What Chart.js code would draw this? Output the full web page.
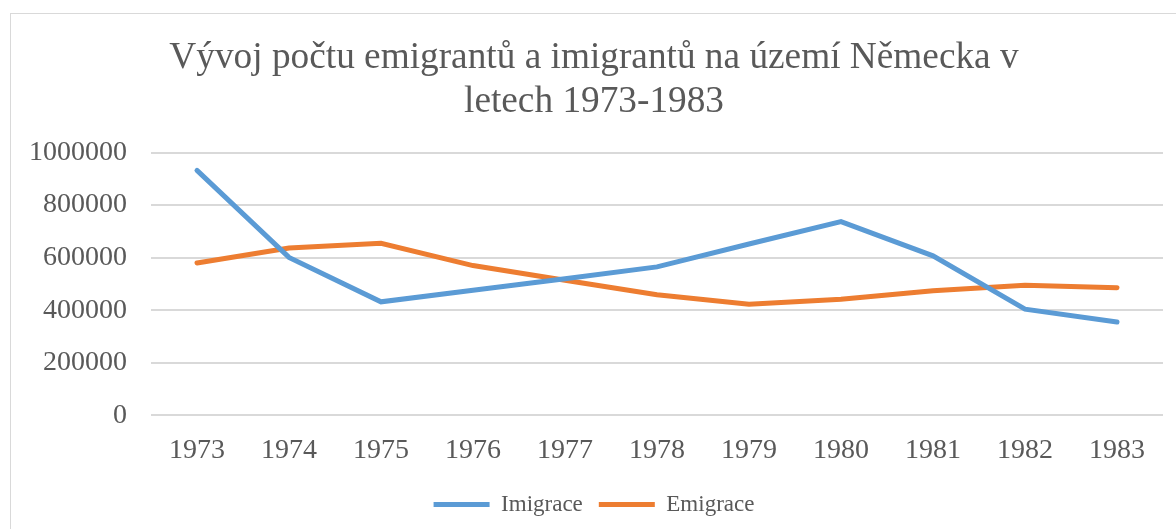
<!DOCTYPE html>
<html>
<head>
<meta charset="utf-8">
<script src="https://cdn.jsdelivr.net/npm/chart.js@4.4.0/dist/chart.umd.min.js"></script>
<style>
  html, body { margin: 0; padding: 0; background: #fff; overflow: hidden; }
  #frame {
    position: absolute; left: 10px; top: 13px;
    width: 1190px; height: 540px;
    border: 1px solid #d9d9d9;
  }
</style>
</head>
<body>
<div id="frame"><canvas id="chart" width="1190" height="540"></canvas></div>
<script>
const years = ['1973', '1974', '1975', '1976', '1977', '1978', '1979', '1980', '1981', '1982', '1983'];
const imigrace = [932000, 601000, 432000, 476000, 520000, 565000, 652000, 737000, 607000, 404000, 355000];
const emigrace = [580000, 637000, 655000, 570000, 514000, 459000, 423000, 442000, 474000, 495000, 486000];
const yTicks = [0, 200000, 400000, 600000, 800000, 1000000];

const serif = '"Times New Roman", "Liberation Serif", serif';
const textColor = '#595959';

Chart.defaults.font.family = serif;
Chart.defaults.color = textColor;

new Chart(document.getElementById('chart'), {
  type: 'line',
  data: {
    labels: years,
    datasets: [
      {
        label: 'Imigrace',
        data: imigrace,
        borderColor: '#5b9bd5',
        backgroundColor: '#5b9bd5',
        borderWidth: 5,
        borderCapStyle: 'round',
        pointRadius: 0,
        tension: 0
      },
      {
        label: 'Emigrace',
        data: emigrace,
        borderColor: '#ed7d31',
        backgroundColor: '#ed7d31',
        borderWidth: 5,
        borderCapStyle: 'round',
        pointRadius: 0,
        tension: 0
      }
    ]
  },
  options: {
    responsive: false,
    animation: false,
    layout: { padding: { left: 14, right: 38, top: 13, bottom: 28 } },
    plugins: {
      title: {
        display: true,
        text: ['Vývoj počtu emigrantů a imigrantů na území Německa v', 'letech 1973-1983'],
        font: { size: 37.3, weight: 'normal', lineHeight: 1.16 },
        color: textColor,
        padding: { top: 10, bottom: 29 }
      },
      legend: {
        position: 'bottom',
        labels: {
          usePointStyle: true,
          pointStyle: 'line',
          pointStyleWidth: 56,
          font: { size: 23 },
          padding: 16,
          color: textColor
        }
      },
      tooltip: { enabled: false }
    },
    scales: {
      x: {
        offset: true,
        grid: { display: false },
        border: { display: false },
        ticks: { font: { size: 28 }, padding: 10, maxRotation: 0 }
      },
      y: {
        min: 0,
        max: 1000000,
        afterBuildTicks: axis => { axis.ticks = yTicks.map(v => ({ value: v })); },
        grid: { color: '#d9d9d9', lineWidth: 2, drawTicks: true, tickLength: 20, tickColor: 'rgba(0,0,0,0)' },
        border: { display: false },
        ticks: { font: { size: 28 }, padding: 4, callback: v => String(v) }
      }
    }
  }
});
</script>
</body>
</html>
